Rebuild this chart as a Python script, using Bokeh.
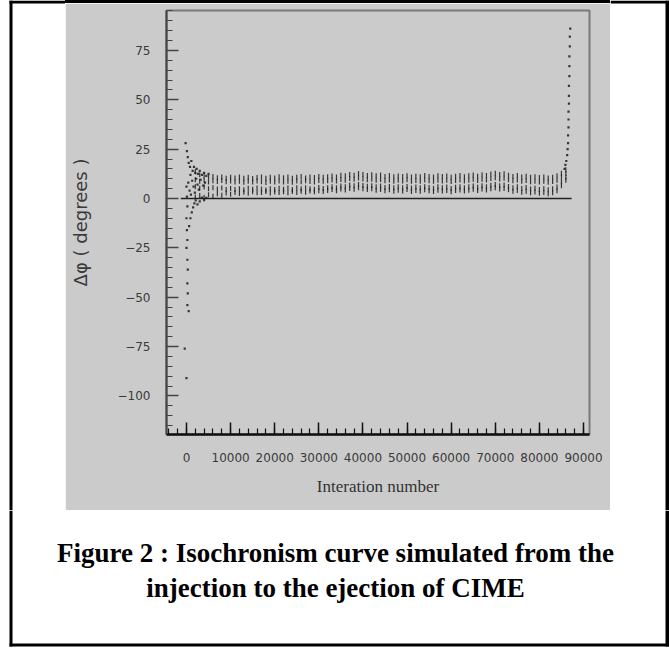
import math

from bokeh.plotting import figure
from bokeh.layouts import row, column
from bokeh.models import Range1d, FixedTicker, Div
from bokeh.core.properties import value
from bokeh.embed import file_html
from bokeh.resources import INLINE

# ---- data -------------------------------------------------------------
# axis ticks
x_ticks = [0, 10000, 20000, 30000, 40000, 50000, 60000, 70000, 80000, 90000]
y_ticks = [-100, -75, -50, -25, 0, 25, 50, 75]
y_tick_labels = {-100: "\u2212100", -75: "\u221275", -50: "\u221250", -25: "\u221225",
                 0: "0", 25: "25", 50: "50", 75: "75"}

# injection transient (iteration, phase slip in degrees)
trans_iter = [-200, 100, 300, 500, 800, 1100, 1400, 1700, 2000, 2300, 2600, 3000,
              3500, 4000, 4500, 5000,
              0, 100, 200, 0, 100, 200, 0, 200, 300, 200, 300, 200, 500, -400, 0,
              600, 900, 1200, 1500, 1800, 2100, 2500, 3000, 3500, 4000, 4500,
              400, 700, 900, 1000, 1300, 1600, 1900, 2200, 2500, 2800, 3200, 3800, 4200]
trans_dphi = [28, 24, 21, 18, 16, 19, 14, 16, 13, 15, 12.5, 14,
              12, 13, 11.5, 12.5,
              6, 1, -4, -10, -16, -21, -25, -31, -36, -43, -48, -54, -57, -76, -91,
              -14, -10, -7, -4.5, -2.5, -1, -3, -1.5, 0.5, -0.8, 0.3,
              8, 4, 12, 2, 9, 6, 3, 10, 7, 4.5, 9.5, 6.5, 8]

# steady band, one sample every 1000 iterations
band_iter = list(range(2000, 86001, 1000))
band_top = [13.5, 12.0, 11.5, 10.8, 11.2, 10.5, 10.9, 10.2, 10.8, 10.4,
            10.9, 10.3, 10.7, 10.1, 10.6, 10.9, 10.2, 10.8, 10.4, 11.0,
            10.5, 10.9, 10.3, 10.8, 11.1, 10.4, 10.9, 10.6, 11.2, 10.7,
            11.0, 11.4, 10.9, 11.8, 11.5, 12.2, 11.8, 12.6, 12.1, 11.7,
            12.0, 11.5, 11.9, 11.2, 11.6, 11.0, 11.4, 11.1, 11.5, 10.9,
            11.3, 11.0, 11.6, 11.2, 10.9, 11.5, 11.1, 11.4, 10.8, 11.3,
            11.6, 11.0, 11.5, 11.9, 11.3, 12.0, 11.6, 12.4, 12.8, 12.1,
            12.5, 11.8, 11.2, 11.6, 10.9, 11.3, 10.7, 11.0, 10.6, 10.9,
            10.4, 10.8, 11.5, 12.8, 14.5]
band_upper = [9.5, 8.8, 9.2, 8.4, 9.0, 8.6, 9.1, 8.5, 8.9, 8.3,
              8.7, 8.2, 8.8, 8.4, 8.9, 8.5, 8.1, 8.7, 8.3, 8.9,
              8.4, 8.8, 8.2, 8.9, 8.5, 9.0, 8.6, 8.3, 9.1, 8.7,
              9.0, 9.4, 8.9, 9.6, 9.3, 10.1, 9.7, 10.4, 9.9, 9.5,
              9.8, 9.2, 9.6, 9.0, 9.4, 8.8, 9.3, 8.9, 9.5, 8.7,
              9.1, 8.8, 9.4, 9.0, 8.7, 9.3, 8.9, 9.2, 8.6, 9.1,
              9.4, 8.9, 9.3, 9.7, 9.1, 9.8, 9.4, 10.1, 10.5, 9.9,
              10.2, 9.5, 9.0, 9.4, 8.7, 9.1, 8.5, 8.8, 8.3, 8.7,
              8.2, 8.6, 9.3, 10.9, 12.6]
band_lower = [6.0, 5.2, 5.8, 4.9, 5.5, 4.8, 5.3, 4.6, 5.1, 4.5,
              5.0, 4.4, 5.2, 4.7, 5.3, 4.8, 4.3, 5.0, 4.6, 5.2,
              4.7, 5.3, 4.6, 5.4, 4.9, 5.5, 5.0, 4.7, 5.6, 5.1,
              5.5, 6.0, 5.4, 6.3, 5.9, 6.8, 6.4, 7.1, 6.6, 6.2,
              6.5, 5.9, 6.3, 5.6, 6.1, 5.4, 5.9, 5.5, 6.1, 5.3,
              5.8, 5.4, 6.0, 5.6, 5.2, 5.9, 5.5, 5.8, 5.1, 5.7,
              6.0, 5.5, 5.9, 6.3, 5.7, 6.4, 6.0, 6.7, 7.1, 6.5,
              6.8, 6.1, 5.5, 5.9, 5.1, 5.6, 4.8, 5.2, 4.6, 5.0,
              4.4, 4.9, 5.8, 8.5, 10.8]
band_bottom = [0.8, 1.5, 0.6, 1.9, 1.2, 2.4, 1.6, 2.8, 2.1, 3.0,
               2.5, 3.2, 2.7, 3.4, 2.9, 3.1, 3.5, 2.8, 3.3, 3.0,
               3.4, 2.9, 3.6, 3.1, 3.7, 3.2, 3.8, 3.4, 3.9, 3.5,
               4.0, 4.5, 3.9, 4.8, 4.3, 5.1, 4.7, 5.4, 4.9, 4.6,
               4.9, 4.2, 4.6, 3.9, 4.4, 3.7, 4.2, 3.8, 4.5, 3.6,
               4.1, 3.7, 4.4, 3.9, 3.5, 4.2, 3.8, 4.1, 3.4, 4.0,
               4.3, 3.8, 4.2, 4.7, 4.0, 4.8, 4.3, 5.0, 5.4, 4.8,
               5.1, 4.4, 3.7, 4.1, 3.2, 3.7, 2.9, 3.3, 2.6, 3.1,
               2.4, 2.9, 3.9, 6.4, 9.2]

# ejection spray
spray_iter = [85700, 85900, 86100, 86300, 86400, 86500, 86500, 86600, 86600, 86600,
              86700, 86700, 86700, 86800, 86800, 86800, 86900, 86900, 87000]
spray_dphi = [15, 17, 19, 22, 25, 28, 32, 36, 40, 44, 48, 52, 57, 62, 67, 72, 77, 82, 86]

# reference line at zero phase slip
zero_iter = [-1300, 87300]
zero_dphi = [0, 0]

caption_lines = ["Figure 2 : Isochronism curve simulated from the",
                 "injection to the ejection of CIME"]

# ---- page geometry (pixels, y downward) ----------------------------------
PAGE_W, PAGE_H = 669, 648
PANEL_L, PANEL_R, PANEL_B = 65, 610, 510
BORDER_L, BORDER_R, BORDER_T, BORDER_B = (9, 12), (665, 669), (0, 3), (643, 646)
CAPTION_X, CAPTION_BASELINES = 335, [552, 587]

PANEL = "#cbcbcb"
INK = "#1c1c1c"

# ---- chart panel ---------------------------------------------------------
p = figure(width=PANEL_R - PANEL_L, height=PANEL_B - BORDER_T[1],
           output_backend="svg", toolbar_location=None,
           x_range=Range1d(-4530, 91360), y_range=Range1d(-119.5, 95.2),
           min_border_left=101, min_border_right=21, min_border_top=7,
           min_border_bottom=76, background_fill_color=PANEL,
           border_fill_color=PANEL)
p.grid.visible = False
p.outline_line_color = "#7a7a7a"
p.outline_line_width = 2

p.line(zero_iter, zero_dphi, line_color="#222222", line_width=1.6)
dot = dict(marker="square", size=2.2, line_alpha=0, fill_color=INK, fill_alpha=0.85)
p.scatter(trans_iter, trans_dphi, **dot)
stroke = dict(marker="dash", angle=math.pi / 2, size=5, line_color=INK,
              line_width=1.2, line_alpha=0.85)
for band_row in (band_top, band_upper, band_lower, band_bottom):
    p.scatter(band_iter, band_row, **stroke)
p.scatter(spray_iter, spray_dphi, **dot)

xa, ya = p.xaxis[0], p.yaxis[0]
xa.ticker = FixedTicker(ticks=x_ticks, minor_ticks=list(range(-4000, 91001, 2000)))
ya.ticker = FixedTicker(ticks=y_ticks, minor_ticks=list(range(-115, 96, 5)))
ya.major_label_overrides = y_tick_labels
for ax in (xa, ya):
    ax.major_tick_in = 12
    ax.major_tick_out = 0
    ax.minor_tick_in = 6
    ax.minor_tick_out = 0
    ax.major_tick_line_width = 1.5
    ax.minor_tick_line_width = 1.2
    ax.major_label_text_font = "DejaVu Sans"
    ax.major_label_text_font_size = "12px"
    ax.major_label_text_color = "#3a3a3a"
xa.axis_line_color = "#111111"
xa.axis_line_width = 2.5
xa.major_tick_line_color = "#111111"
xa.minor_tick_line_color = "#111111"
ya.axis_line_color = "#444444"
ya.axis_line_width = 2
ya.major_tick_line_color = "#444444"
ya.minor_tick_line_color = "#444444"
xa.major_label_standoff = 18
ya.major_label_standoff = 16

xa.axis_label = "Interation number"
xa.axis_label_text_font = "Liberation Serif"
xa.axis_label_text_font_style = "normal"
xa.axis_label_text_font_size = "17px"
xa.axis_label_text_color = "#333333"
xa.axis_label_standoff = 12

ya.axis_label = "\u0394\u03c6 ( degrees )"
ya.axis_label_text_font = "DejaVu Sans"
ya.axis_label_text_font_style = "normal"
ya.axis_label_text_font_size = "18px"
ya.axis_label_text_color = "#3a3a3a"
ya.axis_label_standoff = 24


# ---- white margins with the black page border -------------------------------
def margin(x0, x1, y0, y1, pieces):
    """White page strip spanning x0..x1, y0..y1 with black border pieces."""
    f = figure(width=x1 - x0, height=y1 - y0, output_backend="svg",
               toolbar_location=None, x_range=Range1d(x0, x1), y_range=Range1d(y1, y0),
               min_border=0, x_axis_location=None, y_axis_location=None,
               background_fill_color="white", border_fill_color="white",
               outline_line_color=None)
    f.grid.visible = False
    f.quad(left=[pc[0] for pc in pieces], right=[pc[1] for pc in pieces],
           top=[pc[2] for pc in pieces], bottom=[pc[3] for pc in pieces],
           fill_color="black", line_color=None)
    return f


left_strip = margin(0, PANEL_L, 0, PANEL_B,
                    [(BORDER_L[0], BORDER_L[1], 0, PANEL_B),
                     (BORDER_L[0], PANEL_L, BORDER_T[0], BORDER_T[1])])
right_strip = margin(PANEL_R, PAGE_W, 0, PANEL_B,
                     [(BORDER_R[0], BORDER_R[1], 0, PANEL_B),
                      (PANEL_R, PAGE_W, BORDER_T[0], BORDER_T[1])])
top_strip = Div(width=PANEL_R - PANEL_L, height=BORDER_T[1], margin=0,
                styles={"background-color": "black"})

cap = margin(0, PAGE_W, PANEL_B, PAGE_H,
             [(BORDER_L[0], BORDER_L[1], PANEL_B, BORDER_B[1]),
              (BORDER_R[0], BORDER_R[1], PANEL_B, BORDER_B[1]),
              (BORDER_L[0], BORDER_R[1], BORDER_B[0], BORDER_B[1])])
cap.text(x=[CAPTION_X] * len(caption_lines), y=CAPTION_BASELINES, text=caption_lines,
         text_align="center", text_baseline="alphabetic",
         text_font=value("Liberation Serif"), text_font_style="bold",
         text_font_size=value("27px"), text_color="black")

page = column(
    row(left_strip, column(top_strip, p), right_strip),
    cap,
)

open("out.html", "w").write(file_html(page, INLINE))
